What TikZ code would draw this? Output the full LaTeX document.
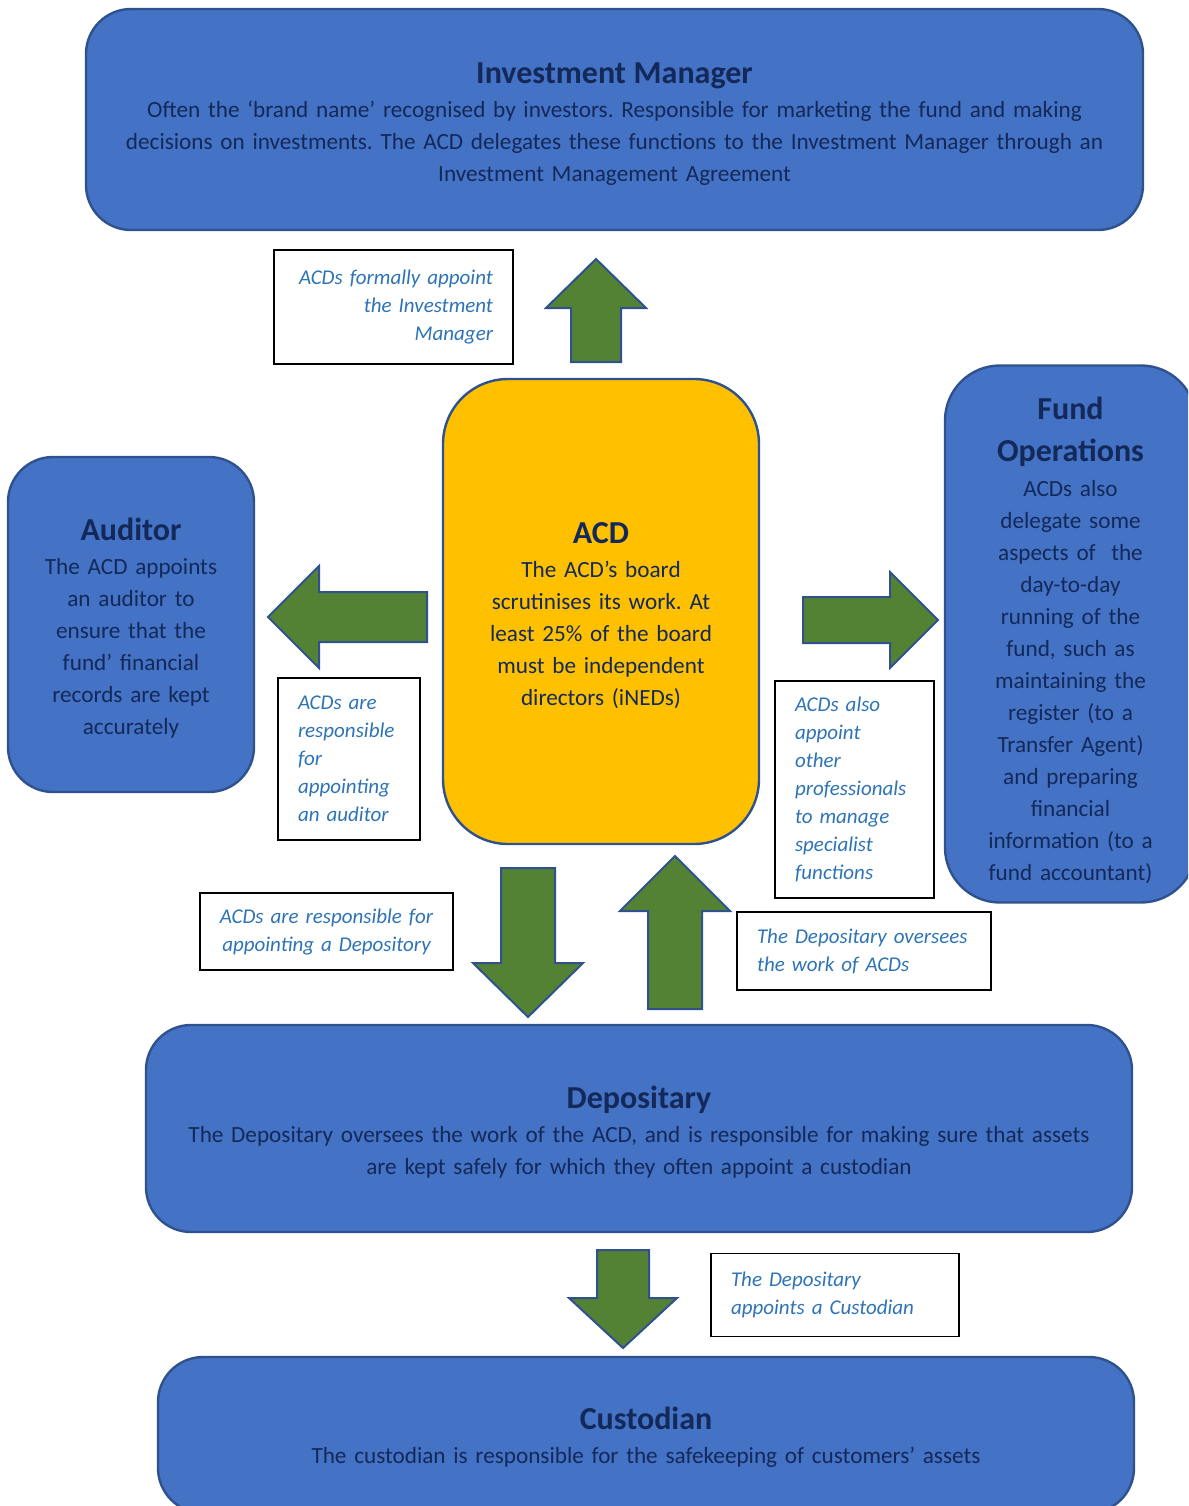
\documentclass[tikz,border=0pt]{standalone}
\usepackage{fontspec}
\setmainfont{Carlito}
\frenchspacing
\definecolor{boxblue}{HTML}{4472C4}
\definecolor{edgeblue}{HTML}{2F528F}
\definecolor{acdgold}{HTML}{FFC000}
\definecolor{arrowgreen}{HTML}{548235}
\definecolor{navytext}{HTML}{13295A}
\definecolor{notetext}{HTML}{2E74B5}
\tikzset{
  party/.style={draw=edgeblue, line width=2.4pt, fill=boxblue, text=navytext, align=center,
    inner sep=0pt, font=\fontsize{23.2}{32}\selectfont},
  note/.style={draw=black, line width=1.8pt, fill=white, text=notetext, inner xsep=20pt,
    inner ysep=0pt, font=\itshape\fontsize{21}{28}\selectfont},
  blockarrow/.style={draw=edgeblue, line width=2pt, fill=arrowgreen, line join=miter}
}
\newcommand{\heading}[1]{{\bfseries\fontsize{32}{32}\selectfont #1}}
\newcommand{\topstrut}[1]{\rule{0pt}{#1}}
\begin{document}
\begin{tikzpicture}[x=1pt,y=-1pt]
\clip (0,0) rectangle (1188,1506);
% the parties
\node[party,rounded corners=45pt,minimum width=1057pt,minimum height=221pt,text width=1020pt,name=im] at (614.5,119.5){\topstrut{30pt}\heading{Investment Manager}\\[2pt]
Often the `brand name' recognised by investors. Responsible for marketing the fund and making\\
decisions on investments. The ACD delegates these functions to the Investment Manager through an\\
Investment Management Agreement};
\node[party,rounded corners=45pt,minimum width=246pt,minimum height=335pt,text width=230pt,name=aud] at (131,624.5){\topstrut{30pt}\heading{Auditor}\\[2pt]
The ACD appoints\\ an auditor to\\ ensure that the\\ fund' financial\\ records are kept\\ accurately};
\node[party,fill=acdgold,rounded corners=65pt,minimum width=316pt,minimum height=465pt,text width=290pt,name=acd] at (601,611.5){\topstrut{30pt}\heading{ACD}\\[2pt]
The ACD's board\\ scrutinises its work. At\\ least 25\% of the board\\ must be independent\\ directors (iNEDs)};
\node[party,rounded corners=55pt,minimum width=251pt,minimum height=537pt,text width=240pt,name=fo] at (1070.5,634){\topstrut{36pt}\heading{Fund}\\[10pt]\heading{Operations}\\[3pt]
ACDs also\\ delegate some\\ aspects of~ the\\ day-to-day\\ running of the\\ fund, such as\\ maintaining the\\ register (to a\\ Transfer Agent)\\ and preparing\\ financial\\ information (to a\\ fund accountant)};
\node[party,rounded corners=45pt,minimum width=986pt,minimum height=207pt,text width=960pt,name=dep] at (639,1128.5){\topstrut{30pt}\heading{Depositary}\\[2pt]
The Depositary oversees the work of the ACD, and is responsible for making sure that assets\\
are kept safely for which they often appoint a custodian};
\node[party,rounded corners=45pt,minimum width=976pt,minimum height=156pt,text width=950pt,name=cust] at (646,1435){\topstrut{26pt}\heading{Custodian}\\[2pt]
The custodian is responsible for the safekeeping of customers' assets};
% the notes
\node[note,align=right,text width=199pt,minimum height=114pt,name=noteim] at (393.5,307){ACDs formally appoint\\ the Investment\\ Manager};
\node[note,align=left,text width=102pt,minimum height=162pt,name=noteaud] at (349,759){ACDs are\\ responsible\\ for\\ appointing\\ an auditor};
\node[note,align=left,text width=119pt,minimum height=217pt,name=notefo] at (854.5,789.5){ACDs also\\ appoint\\ other\\ professionals\\ to manage\\ specialist\\ functions};
\node[note,align=center,inner xsep=10pt,text width=233pt,minimum height=77pt,name=notedep] at (326.5,931.5){ACDs are responsible for\\ appointing a Depository};
\node[note,align=left,text width=214pt,minimum height=78pt,name=noteover] at (864,951){The Depositary oversees\\ the work of ACDs};
\node[note,align=left,text width=208pt,minimum height=83pt,name=notecust] at (835,1295){The Depositary\\ appoints a Custodian};
% block arrows: tail, angle, length, head length, half shaft, half head
\foreach \x/\y/\a/\l/\h/\s/\w in {596/362/90/103/49/25/50, 427/617/180/159/51/25/51,
  803/620/0/135/48/23/48, 528/868/270/149/54/27/55, 675/1009/90/153/55/27/55, 623/1250/270/98/50/26/54}{
	\draw[blockarrow,shift={(\x,\y)},rotate=\a] (0,\s)--({\l-\h},\s)--({\l-\h},\w)--(\l,0)
	  --({\l-\h},-\w)--({\l-\h},-\s)--(0,-\s)--cycle;
};
\end{tikzpicture}
\end{document}
